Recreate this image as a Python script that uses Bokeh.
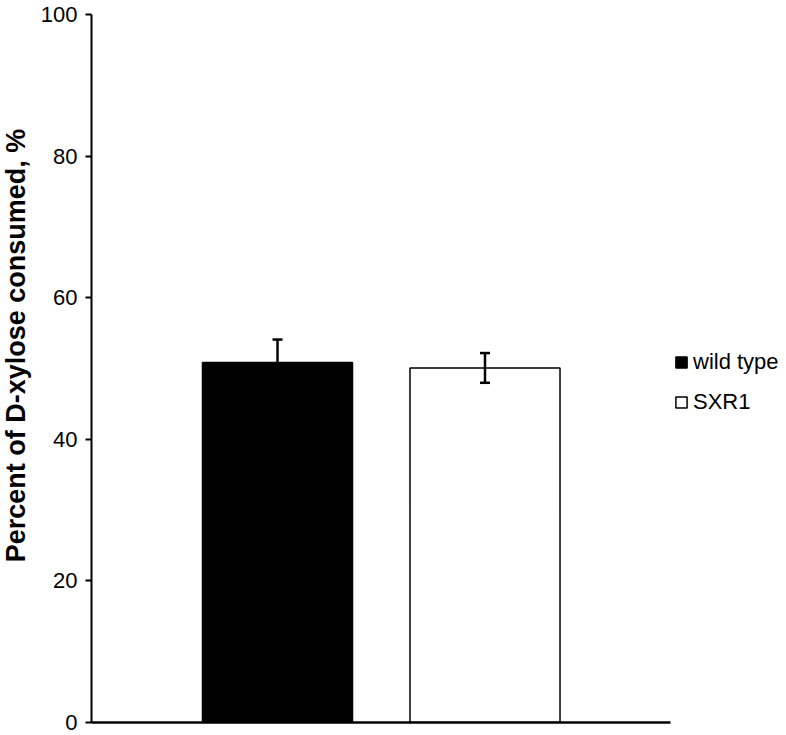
import math
from bokeh.plotting import figure
from bokeh.models import (ColumnDataSource, Range1d, FixedTicker, Whisker, TeeHead,
                          Legend, LegendItem, Label)
from bokeh.embed import file_html
from bokeh.resources import INLINE

# ---- data ----
categories = ["wild type", "SXR1"]
values = [50.84, 50.08]
errors = [3.25, 2.1]
fill_colors = ["black", "white"]
y_ticks = [0, 20, 40, 60, 80, 100]
y_label = "Percent of D-xylose consumed, %"

# x extent of the category axis (in bar-index units) and full frame extent
x_axis_start, x_axis_end = 0.1036, 2.894
x_frame_end = 3.453

xpos = list(range(1, len(categories) + 1))
src = ColumnDataSource(dict(
    x=xpos, top=values, cat=categories, color=fill_colors,
    upper=[v + e for v, e in zip(values, errors)],
    lower=[v - e for v, e in zip(values, errors)],
))

p = figure(width=786, height=735, output_backend="svg", toolbar_location=None,
           x_range=Range1d(x_axis_start, x_frame_end), y_range=Range1d(0, 100),
           min_border_left=91, min_border_right=0, min_border_top=14, min_border_bottom=13)
p.outline_line_color = None
p.xgrid.visible = False
p.ygrid.visible = False

bars = p.vbar(x="x", top="top", width=0.723, bottom=0, source=src,
              fill_color="color", line_color="black", line_width=1.5)

w = Whisker(base="x", upper="upper", lower="lower", source=src, level="overlay",
            line_color="black", line_width=2.5,
            upper_head=TeeHead(size=10, line_width=2.5, line_color="black"),
            lower_head=TeeHead(size=10, line_width=2.5, line_color="black"))
p.add_layout(w)

xa = p.xaxis[0]
xa.ticker = FixedTicker(ticks=[])
xa.bounds = (x_axis_start, x_axis_end)
xa.axis_line_width = 2.5
xa.axis_line_color = "black"
xa.major_tick_line_color = None
xa.minor_tick_line_color = None
xa.major_label_text_font_size = "0px"

ya = p.yaxis[0]
ya.ticker = FixedTicker(ticks=y_ticks)
ya.minor_tick_line_color = None
ya.major_tick_in = 0
ya.major_tick_out = 6
ya.major_tick_line_width = 2
ya.axis_line_width = 2
ya.axis_line_color = "black"
ya.major_tick_line_color = "black"
ya.major_label_text_font = "Liberation Sans"
ya.major_label_text_font_size = "22px"
ya.major_label_text_color = "black"
ya.major_label_standoff = 8

ylab = Label(x=8, y=377, x_units="screen", y_units="screen", angle=math.pi / 2,
             text=y_label, text_align="center", text_baseline="middle",
             text_font="Liberation Sans", text_font_size="27px",
             text_font_style="bold", text_color="black")
p.add_layout(ylab, "left")

items = [LegendItem(label=c, renderers=[bars], index=i) for i, c in enumerate(categories)]
legend = Legend(items=items, location=(583, 307), orientation="vertical",
                glyph_width=14, glyph_height=14, label_standoff=5,
                label_text_font="Liberation Sans", label_text_font_size="22px",
                label_text_color="black", spacing=14, padding=0, margin=0,
                border_line_color=None, background_fill_alpha=0)
p.add_layout(legend)

open("out.html", "w").write(file_html(p, INLINE))
